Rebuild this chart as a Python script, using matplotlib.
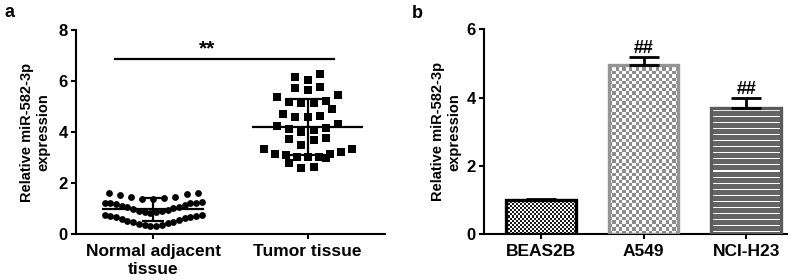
import numpy as np
import matplotlib
matplotlib.use("Agg")
import matplotlib.pyplot as plt

plt.rcParams['font.family'] = ['Liberation Sans', 'DejaVu Sans']
plt.rcParams['font.weight'] = 'bold'
plt.rcParams['axes.labelweight'] = 'bold'

# ---- panel a data ----
tissue_groups = ["Normal adjacent\ntissue", "Tumor tissue"]
normal_values = [1.62, 1.57, 1.45, 1.40, 1.38, 1.38, 1.45, 1.55, 1.62,
                 1.24, 1.23, 1.22, 1.21, 1.20, 1.18, 1.15, 1.12, 1.08,
                 1.05, 1.02, 0.98, 0.95, 0.92, 0.90, 0.87, 0.85, 0.82,
                 0.75, 0.74, 0.72, 0.70, 0.68, 0.65, 0.62, 0.58, 0.55,
                 0.52, 0.49, 0.46, 0.43, 0.40, 0.37, 0.34, 0.32, 0.30]
tumor_values = [6.14, 6.27, 6.04, 5.78, 5.65, 5.71, 5.46, 5.39, 5.15, 5.23,
                5.18, 5.15, 4.90, 4.64, 4.58, 4.69, 4.58, 4.08, 4.24, 4.14,
                4.01, 4.30, 4.12, 3.75, 3.67, 3.71, 3.50, 3.32, 3.23, 3.32,
                3.01, 3.01, 3.14, 2.80, 3.10, 3.13, 2.97, 3.01, 2.58, 2.64]
tissue_mean = [0.97, 4.21]
tissue_sd = [0.46, 1.10]
sig_label = "**"

# ---- panel b data ----
cell_lines = ["BEAS2B", "A549", "NCI-H23"]
cell_mean = [1.00, 4.96, 3.70]
cell_sd = [0.03, 0.24, 0.30]
cell_sig = ["", "##", "##"]

ylabel_text = "Relative miR-582-3p\nexpression"


def swarm_offsets(values, edges, step, max_width):
    """rows of points, lowest value in the middle, spreading outwards"""
    values = np.asarray(values)
    x = np.zeros(len(values))
    bins = np.digitize(values, edges)
    for b in np.unique(bins):
        idx = np.where(bins == b)[0]
        idx = idx[np.argsort(values[idx], kind='stable')]
        n = len(idx)
        gap = min(step, max_width / max(n - 1, 1))
        slots = np.arange(n) - (n - 1) / 2
        order = np.argsort(np.abs(slots), kind='stable')
        x[idx] = slots[order] * gap
    return x


def texture_fill(ax, bar, kind, colors, cell_px):
    x0, y0 = bar.get_x(), bar.get_y()
    w, h = bar.get_width(), bar.get_height()
    p0 = ax.transData.transform((x0, y0))
    p1 = ax.transData.transform((x0 + w, y0 + h))
    ncols = max(int(round(abs(p1[0] - p0[0]) / cell_px)), 1)
    nrows = max(int(round(abs(p1[1] - p0[1]) / cell_px)), 1)
    if kind == 'checker':
        pattern = np.indices((nrows, ncols)).sum(axis=0) % 2
    else:
        pattern = (np.arange(nrows)[:, None] % 6 == 3) * np.ones((1, ncols))
    cmap = matplotlib.colors.ListedColormap(colors)
    im = ax.imshow(pattern, extent=(x0, x0 + w, y0, y0 + h), cmap=cmap,
                   interpolation='nearest', aspect='auto', zorder=2)
    im.set_clip_path(bar)


def style_axes(ax):
    for side in ['top', 'right']:
        ax.spines[side].set_visible(False)
    for side in ['left', 'bottom']:
        ax.spines[side].set_linewidth(1.5)
    ax.tick_params(axis='both', width=1.5, length=3.5)
    ax.tick_params(axis='y', labelsize=12, pad=2.5)
    ax.tick_params(axis='x', labelsize=12.5, pad=4)


fig = plt.figure(figsize=(8, 2.8), dpi=100)

# ---- panel a ----
ax1 = fig.add_axes([0.095, 0.164, 0.386, 0.729])
normal_x = swarm_offsets(normal_values, [0.78, 1.3], 0.072, 0.63)
tumor_x = swarm_offsets(tumor_values, np.arange(2.5, 7.0, 0.5), 0.08, 0.57)
ax1.scatter(normal_x + 0, normal_values, s=24, marker='o', c='black',
            linewidths=0, zorder=3)
ax1.scatter(tumor_x + 1, tumor_values, s=28, marker='s', c='black',
            linewidths=0, zorder=3)
mean_half = [0.33, 0.36]
caps = [8, 16]
for i in range(len(tissue_groups)):
    ax1.hlines(tissue_mean[i], i - mean_half[i], i + mean_half[i],
               color='black', lw=1.6, zorder=4)
    ax1.errorbar(i, tissue_mean[i], yerr=tissue_sd[i], fmt='none',
                 ecolor='black', elinewidth=1.6, capsize=caps[i],
                 capthick=1.6, zorder=4)
ax1.plot([-0.25, 1.17], [6.85, 6.85], color='black', lw=1.6)
ax1.text(0.35, 6.9, sig_label, ha='center', va='bottom', fontsize=15)
ax1.set_xlim(-0.5, 1.5)
ax1.set_ylim(0, 8)
ax1.set_xticks(range(len(tissue_groups)))
ax1.set_xticklabels(tissue_groups)
ax1.set_yticks([0, 2, 4, 6, 8])
ax1.set_ylabel(ylabel_text, fontsize=10.5)
ax1.yaxis.set_label_coords(-0.084, 0.5)
style_axes(ax1)

# ---- panel b ----
ax2 = fig.add_axes([0.605, 0.164, 0.379, 0.731])
ax2.set_xlim(-0.556, 2.4)
ax2.set_ylim(0, 6)
xpos = np.arange(len(cell_lines))
edge_colors = ['black', '#949494', '#5a5a5a']
bars = ax2.bar(xpos, cell_mean, width=0.68, facecolor='none',
               edgecolor=edge_colors, linewidth=2.4, zorder=3)
texture_fill(ax2, bars[0], 'checker', ['white', '#1a1a1a'], 2)
texture_fill(ax2, bars[1], 'checker', ['white', '#8c8c8c'], 3.4)
texture_fill(ax2, bars[2], 'stripes', ['#646464', 'white'], 1)
ax2.errorbar(xpos, cell_mean, yerr=[np.zeros(len(cell_sd)), cell_sd],
             fmt='none', ecolor='black', elinewidth=2, capsize=11,
             capthick=2, zorder=4)
for i, lab in enumerate(cell_sig):
    if lab:
        ax2.text(xpos[i], cell_mean[i] + cell_sd[i] + 0.1, lab,
                 ha='center', va='baseline', fontsize=13)
ax2.set_xticks(xpos)
ax2.set_xticklabels(cell_lines)
ax2.set_yticks([0, 2, 4, 6])
ax2.set_ylabel(ylabel_text, fontsize=10.5)
ax2.yaxis.set_label_coords(-0.074, 0.5)
style_axes(ax2)

fig.text(0.006, 0.957, "a", fontsize=13, va='center', ha='left')
fig.text(0.515, 0.953, "b", fontsize=13, va='center', ha='left')

fig.savefig("out.png", dpi=100)
